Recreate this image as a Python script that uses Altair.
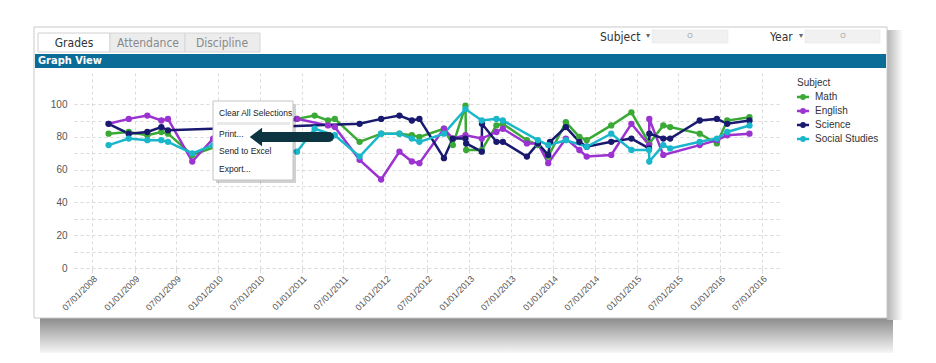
import altair as alt
import pandas as pd

subjects = ["Math", "English", "Science", "Social Studies"]
colors = ["#3aa935", "#9b33d1", "#191970", "#1ab6cb"]

math_dates = ["2008-09-10", "2008-12-07", "2009-02-26", "2009-04-28", "2009-05-27", "2009-09-10",
              "2010-12-11", "2011-02-26", "2011-04-25", "2011-05-25", "2011-09-10", "2011-12-13",
              "2012-03-02", "2012-04-25", "2012-05-28", "2012-09-12", "2012-10-21", "2012-12-15",
              "2012-12-18", "2013-02-24", "2013-04-29", "2013-05-27", "2013-09-09", "2013-10-27",
              "2013-12-11", "2014-02-26", "2014-04-26", "2014-05-28", "2014-09-12", "2014-12-09",
              "2015-02-25", "2015-04-27", "2015-05-27", "2015-10-03", "2015-12-17", "2016-01-31",
              "2016-05-07"]
math_values = [82, 83, 81, 83, 82, 69, 91, 93, 90, 91, 77, 82, 82, 81, 80, 85, 75, 99, 72, 72,
               87, 88, 78, 75, 68, 89, 80, 78, 87, 95, 76, 87, 86, 82, 76, 90, 92]

english_dates = ["2008-09-10", "2008-12-07", "2009-02-26", "2009-04-28", "2009-05-27", "2009-09-10",
                 "2009-12-10", "2010-12-11", "2011-04-25", "2011-05-25", "2011-09-10", "2011-12-13",
                 "2012-03-02", "2012-04-25", "2012-05-28", "2012-09-12", "2012-10-21", "2012-12-15",
                 "2013-02-24", "2013-04-29", "2013-05-27", "2013-09-09", "2013-10-27", "2013-12-11",
                 "2014-02-26", "2014-04-26", "2014-05-28", "2014-09-12", "2014-12-09", "2015-02-24",
                 "2015-02-25", "2015-04-27", "2015-10-03", "2015-12-17", "2016-01-31", "2016-05-07"]
english_values = [88, 91, 93, 90, 91, 65, 79, 91, 87, 86, 66, 54, 71, 65, 64, 85, 79, 81, 79, 83,
                  85, 76, 76, 64, 79, 72, 68, 69, 88, 75, 91, 69, 75, 78, 81, 82]

science_dates = ["2008-09-10", "2008-12-07", "2009-02-26", "2009-04-28", "2009-05-27", "2011-09-10",
                 "2011-12-13", "2012-03-02", "2012-04-25", "2012-05-28", "2012-09-12", "2012-10-21",
                 "2012-12-15", "2012-12-18", "2013-02-24", "2013-02-25", "2013-04-29", "2013-05-27",
                 "2013-09-09", "2013-10-27", "2013-12-11", "2013-12-19", "2014-02-26", "2014-04-26",
                 "2014-05-28", "2014-09-12", "2014-12-09", "2015-02-24", "2015-02-25", "2015-04-27",
                 "2015-05-27", "2015-10-03", "2015-12-17", "2016-01-31", "2016-05-07"]
science_values = [88, 82, 83, 86, 84, 88, 91, 93, 90, 91, 67, 79, 79, 76, 71, 88, 77, 77, 68, 76,
                  69, 77, 86, 77, 74, 77, 79, 73, 82, 79, 79, 90, 91, 88, 90]

social_dates = ["2008-09-10", "2008-12-07", "2009-02-26", "2009-04-28", "2009-05-27", "2009-09-10",
                "2009-12-10", "2010-12-11", "2011-02-26", "2011-05-25", "2011-09-10", "2011-12-13",
                "2012-03-02", "2012-04-25", "2012-05-28", "2012-09-12", "2012-12-15", "2013-02-24",
                "2013-04-29", "2013-05-27", "2013-10-27", "2013-12-11", "2014-02-26", "2014-05-28",
                "2014-09-12", "2014-12-09", "2015-02-24", "2015-02-25", "2015-04-27", "2015-05-27",
                "2015-10-03", "2015-12-17", "2016-01-31", "2016-05-07"]
social_values = [75, 79, 78, 78, 77, 70, 75, 71, 85, 81, 68, 82, 82, 79, 77, 82, 97, 90, 91, 90,
                 78, 75, 78, 74, 82, 72, 72, 65, 75, 73, 77, 79, 83, 87]

tick_labels_years = list(range(2008, 2017))
y_ticks = [0, 10, 20, 30, 40, 50, 60, 70, 80, 90, 100]

frames = []
for name, d, v in [("Math", math_dates, math_values), ("English", english_dates, english_values),
                   ("Science", science_dates, science_values),
                   ("Social Studies", social_dates, social_values)]:
    frames.append(pd.DataFrame({"date": d, "grade": v, "subject": name}))
df = pd.concat(frames, ignore_index=True)

tick_values = []
for yr in tick_labels_years:
    if yr > 2008:
        tick_values.append(alt.DateTime(year=yr, month=1, date=1, utc=True))
    tick_values.append(alt.DateTime(year=yr, month=7, date=1, utc=True))

OX, OY = 74, 73  # page position of plot origin
anchor = pd.DataFrame({"a": [0]})
NARROW = "Liberation Sans Narrow, DejaVu Sans Condensed, sans-serif"
SANS = "Liberation Sans, Arial, sans-serif"


def rect(x1, y1, x2, y2, **kw):
    return alt.Chart(anchor).mark_rect(**kw).encode(
        x=alt.value(x1 - OX), x2=alt.value(x2 - OX), y=alt.value(y1 - OY), y2=alt.value(y2 - OY))


def text(s, x, y, **kw):
    kw.setdefault("baseline", "middle")
    kw.setdefault("align", "left")
    return alt.Chart(anchor).mark_text(text=s, **kw).encode(x=alt.value(x - OX), y=alt.value(y - OY))


grad_down = alt.LinearGradient(gradient="linear", x1=0, y1=0, x2=0, y2=1,
                               stops=[alt.GradientStop(color="#8c8c8c", offset=0),
                                      alt.GradientStop(color="#ffffff", offset=1)])
grad_right = alt.LinearGradient(gradient="linear", x1=0, y1=0, x2=1, y2=0,
                                stops=[alt.GradientStop(color="#b5b5b5", offset=0),
                                       alt.GradientStop(color="#ffffff", offset=1)])

deco_back = [
    rect(40, 318, 893, 356, color=grad_down),
    rect(887, 30, 903, 320, color=grad_right),
    rect(34, 27, 887, 318, fill="white", stroke="#c9c9c9", strokeWidth=1, fillOpacity=0),
    rect(38, 33, 110, 52, fill="white", stroke="#d0d0d0", strokeWidth=1),
    rect(110, 33, 185, 52, fill="#ececec", stroke="#d6d6d6", strokeWidth=1),
    rect(185, 33, 260, 52, fill="#ececec", stroke="#d6d6d6", strokeWidth=1),
    text("Grades", 74, 43, align="center", font=NARROW, fontSize=12, color="#333333"),
    text("Attendance", 148, 43, align="center", font=NARROW, fontSize=12, color="#8a8a8a"),
    text("Discipline", 222, 43, align="center", font=NARROW, fontSize=12, color="#8a8a8a"),
    text("Subject", 600, 37, font=NARROW, fontSize=12, color="#333333"),
    text("▾", 646, 36, font=SANS, fontSize=8, color="#666666"),
    rect(652, 30, 728, 43, fill="#f1f1f1", stroke="#e2e2e2", strokeWidth=0.5),
    text("O", 690, 36, align="center", font=SANS, fontSize=7, color="#999999"),
    text("Year", 770, 37, font=NARROW, fontSize=12, color="#333333"),
    text("▾", 799, 36, font=SANS, fontSize=8, color="#666666"),
    rect(805, 30, 880, 43, fill="#f1f1f1", stroke="#e2e2e2", strokeWidth=0.5),
    text("O", 843, 36, align="center", font=SANS, fontSize=7, color="#999999"),
    rect(35, 54, 886, 68, fill="#0b6c98"),
    text("Graph View", 38, 61, font=NARROW, fontSize=11, fontWeight="bold", color="white"),
]

legend_path = "M-1.27,0L1.27,0M-0.35,0A0.35,0.35,0,1,0,0.35,0A0.35,0.35,0,1,0,-0.35,0"

base = alt.Chart(df).encode(
    x=alt.X("date:T",
            scale=alt.Scale(type="utc",
                            domain=[alt.DateTime(year=2008, month=4, date=12, utc=True),
                                    alt.DateTime(year=2016, month=9, date=26, utc=True)]),
            axis=alt.Axis(values=tick_values, labelExpr="utcFormat(datum.value, '%m/%d/%Y')",
                          title=None, grid=True, gridDash=[3, 3], gridColor="#dadada",
                          domain=False, ticks=True, tickColor="#dadada", tickSize=5,
                          labelAngle=315, labelAlign="right", labelBaseline="top",
                          labelFont=SANS, labelFontSize=9, labelColor="#555555",
                          labelPadding=1, labelOverlap=False)),
    y=alt.Y("grade:Q", scale=alt.Scale(domain=[0, 119], nice=False, zero=True),
            axis=alt.Axis(values=y_ticks, labelExpr="datum.value % 20 == 0 ? datum.label : ''",
                          title=None, grid=True, gridDash=[3, 3], gridColor="#dadada",
                          domain=False, ticks=False, labelPadding=7, labelFont=SANS,
                          labelFontSize=10, labelColor="#555555")),
    color=alt.Color("subject:N", sort=subjects,
                    scale=alt.Scale(domain=subjects, range=colors),
                    legend=alt.Legend(orient="none", legendX=723, legendY=5, title="Subject",
                                      titleFont=SANS, titleFontSize=10, titleFontWeight="normal",
                                      titleColor="#333333", labelFont=SANS, labelFontSize=10,
                                      labelColor="#333333", symbolType=legend_path,
                                      symbolSize=90, symbolStrokeWidth=2.5, rowPadding=0,
                                      titlePadding=3, labelOffset=6, padding=0)),
    detail="subject:N",
)

lines = base.mark_line(strokeWidth=2.5, point=alt.OverlayMarkDef(filled=True, size=40, opacity=1))

arrow_path = "M-1,0L0.2,-0.9L0.2,0.9Z"
deco_front = [
    rect(216, 104, 296, 183, fill="#000000", opacity=0.18),
    rect(213, 101, 293, 180, fill="white", stroke="#c4c4c4", strokeWidth=1),
    text("Clear All Selections", 219, 113, font=SANS, fontSize=8.5, color="#222222"),
    rect(217, 122, 290, 125, fill="#e9e9e9"),
    text("Print...", 219, 134, font=SANS, fontSize=8.5, color="#222222"),
    text("Send to Excel", 219, 151, font=SANS, fontSize=8.5, color="#222222"),
    text("Export...", 219, 169, font=SANS, fontSize=8.5, color="#222222"),
    alt.Chart(anchor).mark_rule(color="#0c3441", strokeWidth=10, strokeCap="round").encode(
        x=alt.value(262 - OX), x2=alt.value(329 - OX), y=alt.value(137 - OY)),
    alt.Chart(anchor).mark_point(shape=arrow_path, size=420, filled=True, color="#0c3441",
                                 opacity=1).encode(x=alt.value(260 - OX), y=alt.value(137 - OY)),
]

chart = alt.layer(*deco_back, lines, *deco_front).properties(
    width=708, height=195,
    padding={"left": 66, "top": 65, "right": 144, "bottom": 85},
    autosize=alt.AutoSizeParams(type="none"),
    background="white",
).configure_view(stroke=None)

chart.save("out.html", embed_options={"renderer": "svg", "actions": False})
